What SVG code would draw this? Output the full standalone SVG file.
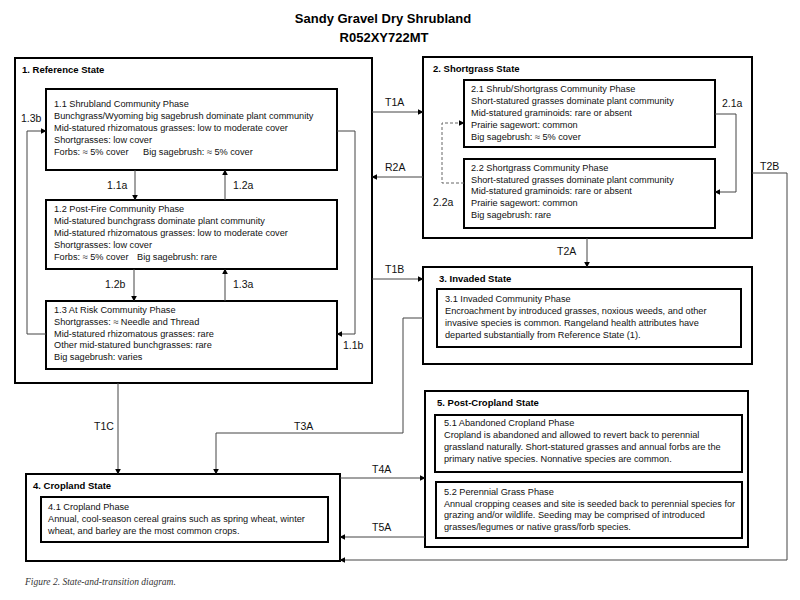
<svg xmlns="http://www.w3.org/2000/svg" width="800" height="600" viewBox="0 0 800 600">
<style>
.st{fill:#fff;stroke:#000;stroke-width:2}
.ph{fill:#fff;stroke:#000;stroke-width:2}
.t{font-family:"Liberation Sans",Arial,sans-serif;font-size:9.2px;fill:#111}
.sh{font-family:"Liberation Sans",Arial,sans-serif;font-size:9.5px;font-weight:bold;fill:#000}
.lb{font-family:"Liberation Sans",Arial,sans-serif;font-size:10.5px;fill:#111}
.c{fill:none;stroke:#444;stroke-width:1}
.d{fill:none;stroke:#666;stroke-width:1;stroke-dasharray:3,2}
.ttl{font-family:"Liberation Sans",Arial,sans-serif;font-size:13px;font-weight:bold;fill:#000}
.cap{font-family:"Liberation Serif","Times New Roman",serif;font-size:9.5px;font-style:italic;fill:#333}
</style>
<defs>
<marker id="a" viewBox="0 0 10 10" refX="9" refY="5" markerWidth="6" markerHeight="6" orient="auto" markerUnits="userSpaceOnUse">
<path d="M0,0 L10,5 L0,10 z" fill="#000"/>
</marker>
</defs>
<rect width="800" height="600" fill="#fff"/>
<text class="ttl" x="383" y="23" text-anchor="middle">Sandy Gravel Dry Shrubland</text>
<text class="ttl" x="384" y="42" text-anchor="middle">R052XY722MT</text>

<g id="state1">
<rect class="st" x="15" y="58" width="357" height="325"/>
<text class="sh" x="22" y="73">1. Reference State</text>
</g>
<g id="phase11">
<rect class="ph" x="46" y="89" width="291" height="81"/>
<text class="t" x="54" y="107">1.1 Shrubland Community Phase</text>
<text class="t" x="54" y="119">Bunchgrass/Wyoming big sagebrush dominate plant community</text>
<text class="t" x="54" y="131">Mid-statured rhizomatous grasses: low to moderate cover</text>
<text class="t" x="54" y="143">Shortgrasses: low cover</text>
<text class="t" x="54" y="155">Forbs: ≈ 5% cover<tspan x="143">Big sagebrush: ≈ 5% cover</tspan></text>
</g>
<g id="phase12">
<rect class="ph" x="46" y="200" width="291" height="69"/>
<text class="t" x="54" y="212">1.2 Post-Fire Community Phase</text>
<text class="t" x="54" y="224">Mid-statured bunchgrass dominate plant community</text>
<text class="t" x="54" y="236">Mid-statured rhizomatous grasses: low to moderate cover</text>
<text class="t" x="54" y="248">Shortgrasses: low cover</text>
<text class="t" x="54" y="260">Forbs: ≈ 5% cover<tspan x="137">Big sagebrush: rare</tspan></text>
</g>
<g id="phase13">
<rect class="ph" x="46" y="301" width="291" height="68"/>
<text class="t" x="54" y="313">1.3 At Risk Community Phase</text>
<text class="t" x="54" y="325">Shortgrasses: ≈ Needle and Thread</text>
<text class="t" x="54" y="337">Mid-statured rhizomatous grasses: rare</text>
<text class="t" x="54" y="348">Other mid-statured bunchgrasses: rare</text>
<text class="t" x="54" y="360">Big sagebrush: varies</text>
</g>

<g id="state2">
<rect class="st" x="423" y="57" width="329" height="181"/>
<text class="sh" x="433" y="72">2. Shortgrass State</text>
</g>
<g id="phase21">
<rect class="ph" x="464" y="80" width="251" height="67"/>
<text class="t" x="471" y="92">2.1 Shrub/Shortgrass Community Phase</text>
<text class="t" x="471" y="104">Short-statured grasses dominate plant community</text>
<text class="t" x="471" y="116">Mid-statured graminoids: rare or absent</text>
<text class="t" x="471" y="128">Prairie sagewort: common</text>
<text class="t" x="471" y="140">Big sagebrush: ≈ 5% cover</text>
</g>
<g id="phase22">
<rect class="ph" x="464" y="159" width="251" height="69"/>
<text class="t" x="471" y="171">2.2 Shortgrass Community Phase</text>
<text class="t" x="471" y="183">Short-statured grasses dominate plant community</text>
<text class="t" x="471" y="194">Mid-statured graminoids: rare or absent</text>
<text class="t" x="471" y="206">Prairie sagewort: common</text>
<text class="t" x="471" y="218">Big sagebrush: rare</text>
</g>

<g id="state3">
<rect class="st" x="423" y="267" width="329" height="97"/>
<text class="sh" x="439" y="282">3. Invaded State</text>
</g>
<g id="phase31">
<rect class="ph" x="437" y="289" width="304" height="58"/>
<text class="t" x="445" y="302">3.1 Invaded Community Phase</text>
<text class="t" x="445" y="314">Encroachment by introduced grasses, noxious weeds, and other</text>
<text class="t" x="445" y="326">invasive species is common. Rangeland health attributes have</text>
<text class="t" x="445" y="338">departed substantially from Reference State (1).</text>
</g>

<g id="state4">
<rect class="st" x="26" y="474" width="314" height="87"/>
<text class="sh" x="33" y="489">4. Cropland State</text>
</g>
<g id="phase41">
<rect class="ph" x="41" y="497" width="287" height="45"/>
<text class="t" x="48" y="510">4.1 Cropland Phase</text>
<text class="t" x="48" y="522">Annual, cool-season cereal grains such as spring wheat, winter</text>
<text class="t" x="48" y="534">wheat, and barley are the most common crops.</text>
</g>

<g id="state5">
<rect class="st" x="425" y="391" width="323" height="156"/>
<text class="sh" x="437" y="406">5. Post-Cropland State</text>
</g>
<g id="phase51">
<rect class="ph" x="435" y="415" width="307" height="57"/>
<text class="t" x="444" y="426">5.1 Abandoned Cropland Phase</text>
<text class="t" x="444" y="438">Cropland is abandoned and allowed to revert back to perennial</text>
<text class="t" x="444" y="450">grassland naturally. Short-statured grasses and annual forbs are the</text>
<text class="t" x="444" y="462">primary native species. Nonnative species are common.</text>
</g>
<g id="phase52">
<rect class="ph" x="436" y="482" width="306" height="56"/>
<text class="t" x="444" y="495">5.2 Perennial Grass Phase</text>
<text class="t" x="444" y="507" textLength="291" lengthAdjust="spacingAndGlyphs">Annual cropping ceases and site is seeded back to perennial species for</text>
<text class="t" x="444" y="518">grazing and/or wildlife. Seeding may be comprised of introduced</text>
<text class="t" x="444" y="530">grasses/legumes or native grass/forb species.</text>
</g>

<g id="connectors">
<path class="c" d="M135,170 V200" marker-end="url(#a)"/>
<path class="c" d="M225,200 V170" marker-end="url(#a)"/>
<path class="c" d="M134,269 V301" marker-end="url(#a)"/>
<path class="c" d="M225,301 V269" marker-end="url(#a)"/>
<path class="c" d="M46,334 H27 V131 H46" marker-end="url(#a)"/>
<path class="c" d="M337,131 H355 V334 H337" marker-end="url(#a)"/>
<path class="c" d="M715,114 H736 V192 H715" marker-end="url(#a)"/>
<path class="d" d="M464,183 H442 V123 H464" marker-end="url(#a)"/>
<path class="c" d="M372,112 H423" marker-end="url(#a)"/>
<path class="c" d="M423,177 H372" marker-end="url(#a)"/>
<path class="c" d="M372,279 H423" marker-end="url(#a)"/>
<path class="c" d="M587,238 V267" marker-end="url(#a)"/>
<path class="c" d="M752,173 H787 V560 H340" marker-end="url(#a)"/>
<path class="c" d="M423,318 H403 V433 H216 V474" marker-end="url(#a)"/>
<path class="c" d="M118,383 V474" marker-end="url(#a)"/>
<path class="c" d="M340,478 H425" marker-end="url(#a)"/>
<path class="c" d="M425,537 H340" marker-end="url(#a)"/>
<text class="lb" x="107" y="189">1.1a</text>
<text class="lb" x="233" y="189">1.2a</text>
<text class="lb" x="105" y="288">1.2b</text>
<text class="lb" x="233" y="288">1.3a</text>
<text class="lb" x="21" y="122">1.3b</text>
<text class="lb" x="343" y="349">1.1b</text>
<text class="lb" x="722" y="107">2.1a</text>
<text class="lb" x="433" y="206">2.2a</text>
<text class="lb" x="385" y="106">T1A</text>
<text class="lb" x="385" y="171">R2A</text>
<text class="lb" x="385" y="273">T1B</text>
<text class="lb" x="557" y="255">T2A</text>
<text class="lb" x="760" y="170">T2B</text>
<text class="lb" x="294" y="430">T3A</text>
<text class="lb" x="94" y="430">T1C</text>
<text class="lb" x="372" y="473">T4A</text>
<text class="lb" x="372" y="531">T5A</text>
</g>
<text class="cap" x="25" y="585">Figure 2. State-and-transition diagram.</text>
</svg>
